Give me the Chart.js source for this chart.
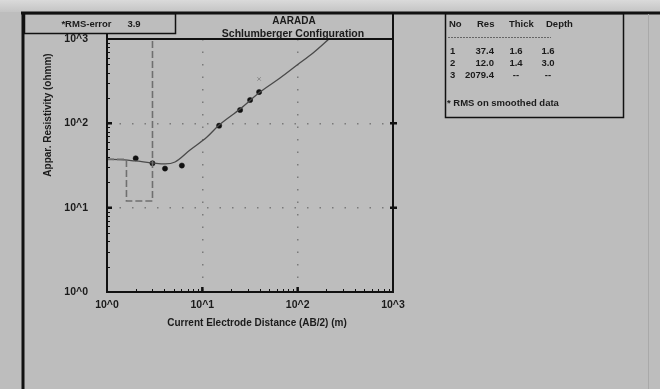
<!DOCTYPE html>
<html><head><meta charset="utf-8">
<script src="https://cdn.jsdelivr.net/npm/chart.js@4/dist/chart.umd.min.js"></script>
<style>
html,body{margin:0;padding:0;background:#bdbdbd;}
#wrap{position:relative;width:660px;height:389px;overflow:hidden;}
canvas{display:block;}
</style>
</head><body>
<div id="wrap"><canvas id="c" width="660" height="389"></canvas></div>
<script>
// Observed apparent resistivity (AB/2 in m, rho in ohm.m)
const obsSpacing = [2.0, 3.0, 4.06, 6.1, 15, 24.9, 31.7, 39.4];
const obsRho     = [38.5, 33.6, 29.1, 31.6, 93.8, 144, 189, 235];
// Masked (faint) reading
const maskSpacing = [39.4];
const maskRho     = [336];
// Calculated (model response) curve
const calcSpacing = [1.0, 1.37, 1.97, 3.04, 4.06, 5.17, 7.43, 11.2, 15, 24.9, 40.3, 65.3, 98.6, 145, 213];
const calcRho     = [37.4, 37.2, 35.8, 33.9, 33.0, 34.8, 48.3, 68.9, 95.5, 148, 235, 345, 492, 683, 1000];
// Layered model
const layerNo    = ['1', '2', '3'];
const layerRes   = [37.4, 12.0, 2079.4];
const layerThick = [1.6, 1.4, null];
const layerDepth = [1.6, 3.0, null];
// Axis ticks and texts
const decadeTicks = [1, 10, 100, 1000];
const tickLabels  = ['10^0', '10^1', '10^2', '10^3'];
const titleLines  = ['AARADA', 'Schlumberger Configuration'];
const xTitle = 'Current Electrode Distance (AB/2) (m)';
const yTitle = 'Appar. Resistivity (ohmm)';
const rmsError = 3.9;

// build model step line
const modelPts = [{x: 1, y: layerRes[0]}];
for (let i = 0; i < layerDepth.length; i++) {
  if (layerDepth[i] == null) break;
  modelPts.push({x: layerDepth[i], y: layerRes[i]});
  modelPts.push({x: layerDepth[i], y: layerRes[i + 1]});
}

const FONT = '"Liberation Sans", Arial, sans-serif';
const fmtTick = v => {
  const i = decadeTicks.findIndex(d => Math.abs(d - v) < 1e-9);
  return i >= 0 ? tickLabels[i] : '';
};

const deco = {
  id: 'deco',
  beforeDraw(chart) {
    const ctx = chart.ctx;
    ctx.save();
    const g = ctx.createLinearGradient(0, 0, 0, 12);
    g.addColorStop(0, '#dadada');
    g.addColorStop(1, '#c4c4c4');
    ctx.fillStyle = g;
    ctx.fillRect(0, 0, 660, 12);
    ctx.restore();
  },
  afterDraw(chart) {
    const ctx = chart.ctx;
    const a = chart.chartArea;
    const xs = chart.scales.x, ys = chart.scales.y;
    ctx.save();
    ctx.strokeStyle = '#111';
    // outer frame
    ctx.lineWidth = 3;
    ctx.beginPath();
    ctx.moveTo(21, 13); ctx.lineTo(660, 13);
    ctx.moveTo(23, 12); ctx.lineTo(23, 389);
    ctx.stroke();
    // faint right line
    ctx.strokeStyle = '#a9a9a9'; ctx.lineWidth = 1;
    ctx.beginPath(); ctx.moveTo(648.5, 14); ctx.lineTo(648.5, 389); ctx.stroke();
    ctx.strokeStyle = '#111';
    // RMS box
    ctx.lineWidth = 1.5;
    ctx.strokeRect(24.5, 13.5, 151, 20);
    // title box right edge
    ctx.lineWidth = 2;
    ctx.beginPath(); ctx.moveTo(a.right, 13); ctx.lineTo(a.right, a.top); ctx.stroke();
    // chart frame
    ctx.lineWidth = 2;
    ctx.beginPath();
    ctx.moveTo(a.left, 34); ctx.lineTo(a.left, a.bottom);
    ctx.lineTo(a.right, a.bottom); ctx.lineTo(a.right, a.top);
    ctx.lineTo(a.left, a.top);
    ctx.stroke();
    // ticks (inward)
    ctx.lineWidth = 1;
    ctx.beginPath();
    for (let k = 0; k < 3; k++) {
      for (let m = 2; m <= 9; m++) {
        const v = m * Math.pow(10, k);
        const py = Math.round(ys.getPixelForValue(v)) + 0.5;
        ctx.moveTo(a.left, py); ctx.lineTo(a.left + 3, py);
        const px = Math.round(xs.getPixelForValue(v)) + 0.5;
        ctx.moveTo(px, a.bottom); ctx.lineTo(px, a.bottom - 3);
      }
    }
    ctx.stroke();
    ctx.lineWidth = 2.5;
    ctx.beginPath();
    [10, 100].forEach(v => {
      const py = ys.getPixelForValue(v);
      ctx.moveTo(a.left, py); ctx.lineTo(a.left + 5, py);
      ctx.moveTo(a.right - 3, py); ctx.lineTo(a.right + 4, py);
      const px = xs.getPixelForValue(v);
      ctx.moveTo(px, a.bottom); ctx.lineTo(px, a.bottom - 5);
    });
    ctx.stroke();
    // texts
    ctx.fillStyle = '#1b1b1b';
    ctx.textBaseline = 'middle';
    ctx.textAlign = 'center';
    ctx.font = 'bold 9.5px ' + FONT;
    ctx.fillText('*RMS-error      ' + rmsError.toFixed(1), 101, 24);
    ctx.font = 'bold 10px ' + FONT;
    ctx.fillText(titleLines[0], 294, 21);
    ctx.font = 'bold 10.5px ' + FONT;
    ctx.fillText(titleLines[1], 293, 34);
    // axis titles
    ctx.font = 'bold 10px ' + FONT;
    ctx.fillText(xTitle, 257, 323);
    ctx.save();
    ctx.translate(48, 115);
    ctx.rotate(-Math.PI / 2);
    ctx.fillText(yTitle, 0, 0);
    ctx.restore();
    // table box
    ctx.lineWidth = 1.5;
    ctx.strokeRect(445.5, 13.5, 178, 104);
    ctx.font = 'bold 9.5px ' + FONT;
    ctx.textAlign = 'left';
    ctx.fillText('No', 449, 24);
    ctx.fillText('Res', 477, 24);
    ctx.fillText('Thick', 509, 24);
    ctx.fillText('Depth', 546, 24);
    ctx.strokeStyle = '#666'; ctx.lineWidth = 1;
    ctx.setLineDash([2, 1]);
    ctx.beginPath(); ctx.moveTo(448, 37.5); ctx.lineTo(551, 37.5); ctx.stroke();
    ctx.setLineDash([]);
    const rowY = [51, 63, 75];
    for (let i = 0; i < layerNo.length; i++) {
      const y = rowY[i];
      ctx.textAlign = 'left';
      ctx.fillText(layerNo[i], 450, y);
      ctx.textAlign = 'right';
      ctx.fillText(layerRes[i].toFixed(1), 494, y);
      ctx.textAlign = 'center';
      ctx.fillText(layerThick[i] == null ? '--' : layerThick[i].toFixed(1), 516, y);
      ctx.fillText(layerDepth[i] == null ? '--' : layerDepth[i].toFixed(1), 548, y);
    }
    ctx.textAlign = 'left';
    ctx.fillText('* RMS on smoothed data', 447, 103);
    ctx.restore();
  }
};

new Chart(document.getElementById('c'), {
  type: 'scatter',
  data: {
    datasets: [
      {
        label: 'Model',
        data: modelPts,
        showLine: true,
        borderColor: '#6f6f6f',
        borderWidth: 1.6,
        borderDash: [7, 3],
        pointRadius: 0,
        tension: 0
      },
      {
        label: 'Calculated',
        data: calcSpacing.map((x, i) => ({x, y: calcRho[i]})),
        showLine: true,
        borderColor: '#4a4a4a',
        borderWidth: 1.3,
        pointRadius: 0,
        cubicInterpolationMode: 'monotone'
      },
      {
        label: 'Observed',
        data: obsSpacing.map((x, i) => ({x, y: obsRho[i]})),
        showLine: false,
        pointRadius: 2.6,
        pointBackgroundColor: '#111',
        pointBorderColor: '#111',
        pointBorderWidth: 0.5
      },
      {
        label: 'Masked',
        data: maskSpacing.map((x, i) => ({x, y: maskRho[i]})),
        showLine: false,
        pointStyle: 'crossRot',
        pointRadius: 2.5,
        pointBorderColor: '#8a8a8a',
        pointBorderWidth: 1
      }
    ]
  },
  options: {
    responsive: false,
    animation: false,
    devicePixelRatio: 1,
    layout: {padding: {left: 36, top: 39, right: 267, bottom: 56}},
    plugins: {legend: {display: false}, tooltip: {enabled: false}},
    scales: {
      x: {
        type: 'logarithmic',
        min: 1, max: 1000,
        afterBuildTicks: s => { s.ticks = decadeTicks.map(v => ({value: v})); },
        afterFit: s => { s.height = 41; },
        ticks: {
          callback: v => fmtTick(v),
          font: {family: FONT, size: 10.5, weight: 'bold'},
          color: '#1b1b1b',
          maxRotation: 0, autoSkip: false, padding: 7
        },
        grid: {
          color: ctx => (ctx.tick && (ctx.tick.value === 1 || ctx.tick.value === 1000)) ? 'rgba(0,0,0,0)' : '#7a7a7a',
          lineWidth: 1.5,
          drawTicks: false
        },
        border: {display: false, dash: [1.5, 11]},
        title: {display: false}
      },
      y: {
        type: 'logarithmic',
        min: 1, max: 1000,
        afterBuildTicks: s => { s.ticks = decadeTicks.map(v => ({value: v})); },
        afterFit: s => { s.width = 71; },
        ticks: {
          callback: v => fmtTick(v),
          font: {family: FONT, size: 10.5, weight: 'bold'},
          color: '#1b1b1b',
          autoSkip: false, padding: 19
        },
        grid: {
          color: ctx => (ctx.tick && (ctx.tick.value === 1 || ctx.tick.value === 1000)) ? 'rgba(0,0,0,0)' : '#7a7a7a',
          lineWidth: 1.5,
          drawTicks: false
        },
        border: {display: false, dash: [1.5, 11]},
        title: {display: false}
      }
    }
  },
  plugins: [deco]
});
</script>
</body></html>
